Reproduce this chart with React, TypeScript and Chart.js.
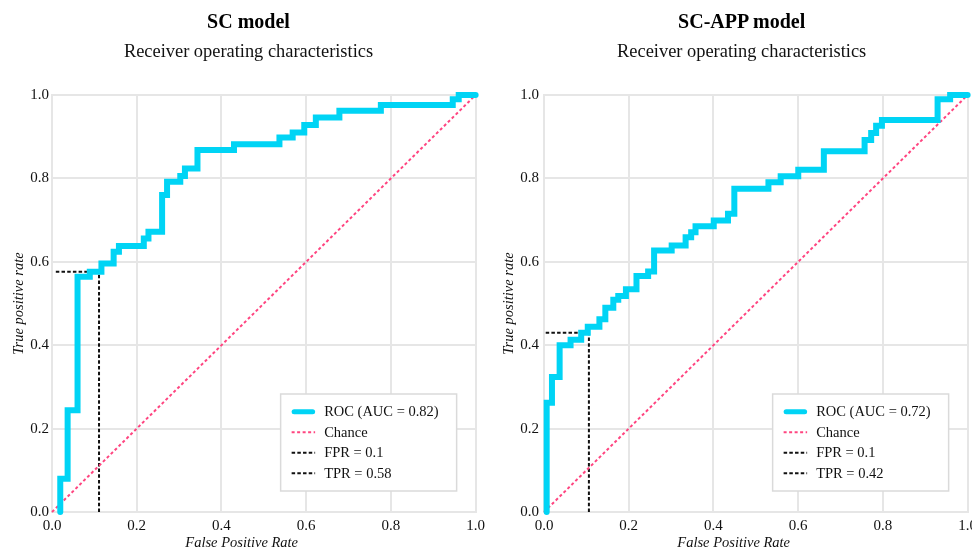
import React, { useEffect, useRef } from 'react';
import { Chart, registerables } from 'chart.js';

Chart.register(...registerables);

// ---------- data ----------
const axisTicks = [0, 0.2, 0.4, 0.6, 0.8, 1.0];

// SC model ROC (step corners: fpr of the vertical jump, tpr reached)
const scFpr = [0.0195, 0.0195, 0.0369, 0.0603, 0.0892, 0.1167, 0.1455, 0.158, 0.2167, 0.2277, 0.2599, 0.2716, 0.3028, 0.3138, 0.3434, 0.4296, 0.5369, 0.5681, 0.5955, 0.6228, 0.6784, 0.7763, 0.946, 0.9601, 1.0];
const scTpr = [0.0, 0.08, 0.244, 0.564, 0.576, 0.596, 0.624, 0.638, 0.656, 0.672, 0.76, 0.792, 0.806, 0.824, 0.868, 0.882, 0.898, 0.91, 0.928, 0.946, 0.962, 0.976, 0.99, 1.0, 1.0];
const scLabels = ['ROC (AUC = 0.82)', 'Chance', 'FPR = 0.1', 'TPR = 0.58'];
const scFprLineX = [0.111, 0.111];
const scFprLineY = [0, 0.576];
const scTprLineX = [0.009, 0.111];
const scTprLineY = [0.576, 0.576];

// SC-APP model ROC
const appFpr = [0.0063, 0.0063, 0.0188, 0.0369, 0.0627, 0.0878, 0.1033, 0.1308, 0.1448, 0.1636, 0.1753, 0.1934, 0.2183, 0.2458, 0.2599, 0.3014, 0.3343, 0.3474, 0.3577, 0.4007, 0.4343, 0.4493, 0.5298, 0.5587, 0.6002, 0.6606, 0.7568, 0.7723, 0.784, 0.7977, 0.9291, 0.9587, 1.0];
const appTpr = [0.0, 0.262, 0.324, 0.4, 0.413, 0.43, 0.444, 0.462, 0.49, 0.509, 0.518, 0.534, 0.566, 0.577, 0.627, 0.639, 0.659, 0.671, 0.685, 0.699, 0.715, 0.775, 0.791, 0.805, 0.821, 0.865, 0.892, 0.909, 0.926, 0.94, 0.99, 1.0, 1.0];
const appLabels = ['ROC (AUC = 0.72)', 'Chance', 'FPR = 0.1', 'TPR = 0.42'];
const appFprLineX = [0.106, 0.106];
const appFprLineY = [0, 0.43];
const appTprLineX = [0.004, 0.106];
const appTprLineY = [0.43, 0.43];

const chanceX = [0, 1];
const chanceY = [0, 1];

// ---------- styling ----------
const FONT = '"Liberation Serif", "Times New Roman", serif';
const ROC_COLOR = '#00D4F5';
const CHANCE_COLOR = '#FF4580';
const CUT_COLOR = '#111111';
const GRID_COLOR = '#E6E6E6';

const zipXY = (xs: number[], ys: number[]) => xs.map((x, i) => ({ x, y: ys[i] }));

const insideLegend = {
  id: 'insideLegend',
  afterDatasetsDraw(chart: any, _args: any, opts: any) {
    const { ctx, chartArea } = chart;
    const w = opts.width;
    const h = opts.height;
    const x0 = chartArea.right - opts.right - w;
    const y0 = chartArea.bottom - opts.bottom - h;
    ctx.save();
    ctx.fillStyle = '#ffffff';
    ctx.fillRect(x0, y0, w, h);
    ctx.strokeStyle = '#DADADA';
    ctx.lineWidth = 1.5;
    ctx.strokeRect(x0, y0, w, h);
    chart.data.datasets.forEach((ds: any, i: number) => {
      const y = y0 + opts.firstRow + i * opts.rowGap;
      ctx.save();
      ctx.strokeStyle = ds.borderColor;
      const dash = ds.borderDash || [];
      ctx.setLineDash(dash);
      if (dash.length) {
        ctx.lineWidth = ds.borderWidth;
        ctx.lineCap = 'butt';
        ctx.beginPath();
        ctx.moveTo(x0 + opts.sampleStart, y);
        ctx.lineTo(x0 + opts.sampleEnd, y);
        ctx.stroke();
      } else {
        ctx.lineWidth = 5;
        ctx.lineCap = 'round';
        ctx.beginPath();
        ctx.moveTo(x0 + opts.sampleStart + 2.5, y);
        ctx.lineTo(x0 + opts.sampleEnd - 2.5, y);
        ctx.stroke();
      }
      ctx.restore();
      ctx.fillStyle = '#111';
      ctx.font = `14.5px ${FONT}`;
      ctx.textAlign = 'left';
      ctx.textBaseline = 'middle';
      ctx.fillText(ds.label, x0 + opts.textStart, y + 0.5);
    });
    ctx.restore();
  },
};

type RocProps = {
  left: number;
  width: number;
  yAxisWidth: number;
  fpr: number[];
  tpr: number[];
  labels: string[];
  fprLineX: number[];
  fprLineY: number[];
  tprLineX: number[];
  tprLineY: number[];
  yTickPad: number;
};

function RocChart(p: RocProps) {
  const ref = useRef<HTMLCanvasElement>(null);
  useEffect(() => {
    if (!ref.current) return;
    const chart = new Chart(ref.current, {
      type: 'line',
      data: {
        datasets: [
          {
            label: p.labels[0],
            data: zipXY(p.fpr, p.tpr),
            borderColor: ROC_COLOR,
            backgroundColor: ROC_COLOR,
            borderWidth: 6,
            stepped: 'before',
            pointRadius: 0,
            borderJoinStyle: 'miter',
            borderCapStyle: 'round',
            clip: false,
          } as any,
          {
            label: p.labels[1],
            data: zipXY(chanceX, chanceY),
            borderColor: CHANCE_COLOR,
            borderWidth: 2,
            borderDash: [3, 2.5],
            pointRadius: 0,
            clip: false,
          } as any,
          {
            label: p.labels[2],
            data: zipXY(p.fprLineX, p.fprLineY),
            borderColor: CUT_COLOR,
            borderWidth: 2,
            borderDash: [3.5, 2.2],
            pointRadius: 0,
            clip: false,
          } as any,
          {
            label: p.labels[3],
            data: zipXY(p.tprLineX, p.tprLineY),
            borderColor: CUT_COLOR,
            borderWidth: 2,
            borderDash: [3.5, 2.2],
            pointRadius: 0,
            clip: false,
          } as any,
        ],
      },
      options: {
        responsive: false,
        maintainAspectRatio: false,
        animation: false,
        layout: { padding: { top: 95, left: 0, right: 12, bottom: 0 } },
        plugins: {
          legend: { display: false },
          tooltip: { enabled: false },
          insideLegend: {
            width: 176,
            height: 97,
            right: 19,
            bottom: 21,
            firstRow: 17.7,
            rowGap: 20.5,
            sampleStart: 11,
            sampleEnd: 34.5,
            textStart: 43.5,
          },
        } as any,
        scales: {
          x: {
            type: 'linear',
            min: 0,
            max: 1,
            afterBuildTicks: (s: any) => {
              s.ticks = axisTicks.map((v) => ({ value: v }));
            },
            afterFit: (s: any) => {
              s.height = 37;
            },
            ticks: {
              padding: 5,
              color: '#111',
              font: { family: FONT, size: 15 },
              callback: (v: any) => Number(v).toFixed(1),
              maxRotation: 0,
            },
            grid: { color: GRID_COLOR, lineWidth: 2, drawTicks: false },
            border: { display: true, color: GRID_COLOR, width: 2 },
          },
          y: {
            type: 'linear',
            min: 0,
            max: 1,
            afterBuildTicks: (s: any) => {
              s.ticks = axisTicks.map((v) => ({ value: v }));
            },
            afterFit: (s: any) => {
              s.width = p.yAxisWidth;
            },
            ticks: {
              padding: p.yTickPad,
              color: '#111',
              font: { family: FONT, size: 15 },
              callback: (v: any) => Number(v).toFixed(1),
            },
            title: {
              display: true,
              text: 'True positive rate',
              color: '#111',
              font: { family: FONT, size: 14.5, style: 'italic' },
              padding: { top: 10, bottom: 0 },
            },
            grid: { color: GRID_COLOR, lineWidth: 2, drawTicks: false },
            border: { display: true, color: GRID_COLOR, width: 2 },
          },
        },
      } as any,
      plugins: [insideLegend],
    });
    return () => chart.destroy();
  }, []);
  return (
    <canvas
      ref={ref}
      width={p.width}
      height={549}
      style={{ position: 'absolute', left: p.left, top: 0, width: p.width, height: 549 }}
    />
  );
}

function Heading({ center, title }: { center: number; title: string }) {
  return (
    <>
      <div
        style={{
          position: 'absolute',
          left: center - 200,
          width: 400,
          top: 11.3,
          textAlign: 'center',
          fontFamily: FONT,
          fontWeight: 'bold',
          fontSize: 20,
          lineHeight: '20px',
          color: '#000',
          whiteSpace: 'nowrap',
        }}
      >
        {title}
      </div>
      <div
        style={{
          position: 'absolute',
          left: center - 200,
          width: 400,
          top: 42,
          textAlign: 'center',
          fontFamily: FONT,
          fontSize: 18.4,
          lineHeight: '18.4px',
          color: '#111',
          whiteSpace: 'nowrap',
        }}
      >
        Receiver operating characteristics
      </div>
    </>
  );
}

function XTitle({ center }: { center: number }) {
  return (
    <div
      style={{
        position: 'absolute',
        left: center - 150,
        width: 300,
        top: 535.3,
        textAlign: 'center',
        fontFamily: FONT,
        fontStyle: 'italic',
        fontSize: 14.5,
        lineHeight: '14.5px',
        color: '#111',
        whiteSpace: 'nowrap',
      }}
    >
      False Positive Rate
    </div>
  );
}

export default function App() {
  return (
    <div
      style={{
        position: 'absolute',
        left: 0,
        top: 0,
        width: 972,
        height: 549,
        overflow: 'hidden',
        background: '#fff',
      }}
    >
      <RocChart
        left={0}
        width={490}
        yAxisWidth={52}
        yTickPad={3}
        fpr={scFpr}
        tpr={scTpr}
        labels={scLabels}
        fprLineX={scFprLineX}
        fprLineY={scFprLineY}
        tprLineX={scTprLineX}
        tprLineY={scTprLineY}
      />
      <RocChart
        left={490}
        width={492}
        yAxisWidth={54}
        yTickPad={5}
        fpr={appFpr}
        tpr={appTpr}
        labels={appLabels}
        fprLineX={appFprLineX}
        fprLineY={appFprLineY}
        tprLineX={appTprLineX}
        tprLineY={appTprLineY}
      />
      <Heading center={248.5} title="SC model" />
      <Heading center={741.7} title="SC-APP model" />
      <XTitle center={241.7} />
      <XTitle center={733.7} />
    </div>
  );
}
